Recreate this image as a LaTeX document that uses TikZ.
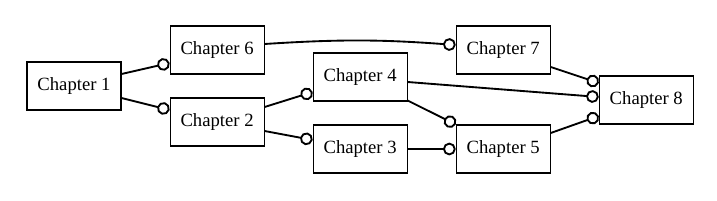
\documentclass[tikz,border=0pt]{standalone}
\usepackage{fontspec}
\setmainfont{Liberation Serif}
\usetikzlibrary{positioning,arrows.meta}

\begin{document}
\begin{tikzpicture}[>={Circle[open,length=9.5pt,width=9.5pt]},node distance=36pt,
        chapter/.style={draw,line width=0.8pt,minimum width=70.5pt,minimum height=36pt,font=\fontsize{14}{16}\selectfont},
        link/.style={->,line width=1.4pt}]
        \useasboundingbox (-55.5pt,64.5pt) rectangle (482.25pt,-85.5pt);
        \node[chapter] (chap1) at (0,0) {Chapter 1};
        \node[chapter,right=of chap1,yshift=27pt] (chap6) {Chapter 6};
        \node[chapter,right=of chap1,yshift=-27pt] (chap2) {Chapter 2};
        \node[chapter,right=of chap2,yshift=33.75pt] (chap4) {Chapter 4};
        \node[chapter,right=of chap2,yshift=-20.25pt] (chap3) {Chapter 3};
        \node[chapter,right=of chap3] (chap5) {Chapter 5};
        \node[chapter,right=of chap4,yshift=20.25pt] (chap7) {Chapter 7};
        \node[chapter,right=of chap5,yshift=36.75pt] (chap8) {Chapter 8};
        \draw[link] ([yshift=9pt]chap1.east) -- ([yshift=-9.75pt]chap6.west);
        \draw[link] ([yshift=-9pt]chap1.east) -- ([yshift=9pt]chap2.west);
        \draw[link] ([yshift=11.25pt]chap2.east) -- ([yshift=-11.25pt]chap4.west);
        \draw[link] ([yshift=-6.75pt]chap2.east) -- ([yshift=6.75pt]chap3.west);
        \draw[link] (chap3) -- (chap5);
        \draw[link] ([yshift=0.75pt]chap4.south east) -- (chap5.north west);
        \draw[link] ([yshift=-3.75pt]chap4.east) -- ([yshift=2.25pt]chap8.west);
        \draw[link] ([yshift=4.5pt]chap6.east) to[bend left=4] ([yshift=3.75pt]chap7.west);
        \draw[link] ([yshift=-12.75pt]chap7.east) -- ([yshift=12.75pt]chap8.west);
        \draw[link] ([yshift=12pt]chap5.east) -- ([yshift=-12pt]chap8.west);
    \end{tikzpicture}
\end{document}
